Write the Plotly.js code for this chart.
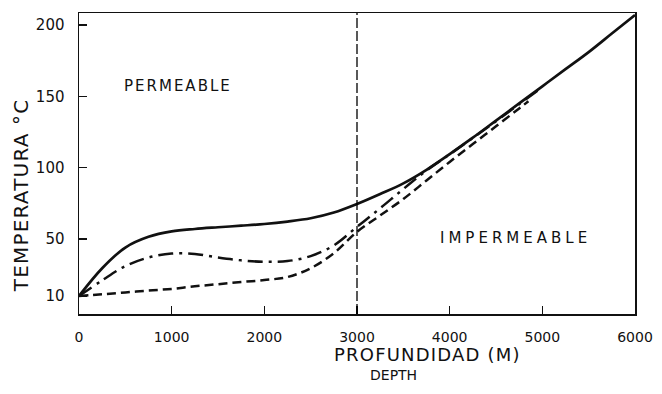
<!DOCTYPE html>
<html>
<head>
<meta charset="utf-8">
<script src="https://cdn.plot.ly/plotly-3.0.1.min.js"></script>
<style>html,body{margin:0;padding:0;background:#fff;}#chart{width:662px;height:394px;}</style>
</head>
<body>
<div id="chart"></div>
<script>
// Depth (m) and temperature (°C)
const depthSolid = [0, 250, 500, 750, 1000, 1250, 1500, 1750, 2000, 2250, 2500, 2750, 3000, 3250, 3500, 3750, 4000, 4250, 4500, 4750, 5000, 5250, 5500, 5750, 6000];
const tempSolid  = [10, 29.5, 44, 51.5, 55.3, 57, 58.2, 59.3, 60.5, 62.2, 64.5, 68.5, 74.5, 81.5, 89, 98.5, 109.5, 121, 133, 145, 157, 169, 181, 194, 207];

const depthDashDot = [0, 250, 500, 750, 1000, 1250, 1500, 1750, 2000, 2250, 2500, 2750, 3000, 3250, 3500, 3750, 4000, 4250, 4500, 4750, 4950];
const tempDashDot  = [10, 21, 31, 37, 39.8, 39.5, 37, 35, 34, 34.5, 38, 45.5, 58.5, 71.5, 85, 98, 109.3, 120.8, 132.5, 144.5, 154];

const depthDashed = [0, 250, 500, 750, 1000, 1250, 1500, 1750, 2000, 2250, 2500, 2750, 3000, 3250, 3500, 3750, 4000, 4250, 4500, 4750, 4850];
const tempDashed  = [10, 11.2, 12.5, 13.8, 15, 16.8, 18.3, 19.8, 21.2, 23.3, 29.5, 40, 55, 66.5, 78, 91, 104, 116.5, 129, 141.5, 146.5];

const xTicks = [0, 1000, 2000, 3000, 4000, 5000, 6000];
const yTicks = [10, 50, 100, 150, 200];
const boundaryDepth = 3000;

const FONT = 'DejaVu Sans, Verdana, sans-serif';
const INK = '#111';

const traces = [
  {x: depthSolid, y: tempSolid, mode: 'lines', line: {color: INK, width: 2.7, shape: 'spline', smoothing: 1}, hoverinfo: 'skip'},
  {x: depthDashDot, y: tempDashDot, mode: 'lines', line: {color: INK, width: 2.5, shape: 'spline', smoothing: 1, dash: '15px,6px,3px,6px'}, hoverinfo: 'skip'},
  {x: depthDashed, y: tempDashed, mode: 'lines', line: {color: INK, width: 2.5, shape: 'spline', smoothing: 1, dash: '9px,5px'}, hoverinfo: 'skip'}
];

const layout = {
  width: 662, height: 394,
  margin: {l: 79, r: 27, t: 13, b: 80},
  paper_bgcolor: '#fff', plot_bgcolor: '#fff',
  showlegend: false,
  font: {family: FONT, color: INK},
  xaxis: {
    range: [0, 6000], tickvals: xTicks, ticktext: xTicks.map(String),
    ticks: 'inside', ticklen: 8, tickwidth: 1.2, tickcolor: INK,
    showline: true, linecolor: INK, linewidth: 1.5, mirror: true,
    showgrid: false, zeroline: false,
    tickfont: {size: 14, family: FONT, color: INK}, ticklabelstandoff: 10
  },
  yaxis: {
    range: [-2.6, 208.4], tickvals: yTicks, ticktext: yTicks.map(String),
    ticks: 'inside', ticklen: 8, tickwidth: 1.2, tickcolor: INK,
    showline: true, linecolor: INK, linewidth: 1.5, mirror: true,
    showgrid: false, zeroline: false,
    tickfont: {size: 15, family: FONT, color: INK}, ticklabelstandoff: 10
  },
  shapes: [
    {type: 'line', xref: 'x', yref: 'paper', x0: boundaryDepth, x1: boundaryDepth, y0: 0, y1: 1,
     line: {color: '#000', width: 1.3, dash: '10px,3px'}}
  ],
  annotations: [
    {text: '<span style="letter-spacing:1.2px">TEMPERATURA °C</span>', xref: 'paper', yref: 'paper', x: -0.104, y: 0.395,
     xanchor: 'center', yanchor: 'middle', textangle: -90, showarrow: false,
     font: {size: 20, family: FONT, color: INK}},
    {text: '<span style="letter-spacing:2px">PERMEABLE</span>', xref: 'x', yref: 'y', x: 1070, y: 157, showarrow: false,
     font: {size: 15, family: FONT, color: INK}},
    {text: '<span style="letter-spacing:4px">IMPERMEABLE</span>', xref: 'x', yref: 'y', x: 4710, y: 51, showarrow: false,
     font: {size: 15, family: FONT, color: INK}},
    {text: '<span style="letter-spacing:1.2px">PROFUNDIDAD (M)</span>', xref: 'paper', yref: 'paper', x: 0.627, y: -0.136, yanchor: 'middle', showarrow: false,
     font: {size: 18, family: FONT, color: INK}},
    {text: 'DEPTH', xref: 'paper', yref: 'paper', x: 0.565, y: -0.203, yanchor: 'middle', showarrow: false,
     font: {size: 14, family: FONT, color: INK}}
  ]
};

Plotly.newPlot('chart', traces, layout, {staticPlot: true, displayModeBar: false});
</script>
</body>
</html>
